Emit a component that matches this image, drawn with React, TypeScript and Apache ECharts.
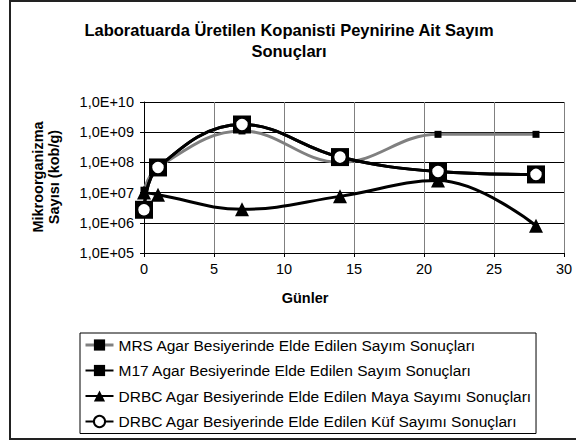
import React, { useEffect, useRef } from "react";
import * as echarts from "echarts";

const days = [0, 1, 7, 14, 21, 28];
const mrsValues = [1.2e7, 7e7, 1.1e9, 1.0e8, 8.5e8, 8.5e8];
const m17Values = [2.7e6, 6.8e7, 1.8e9, 1.5e8, 5e7, 4e7];
const mayaValues = [1e7, 8.5e6, 2.8e6, 7.5e6, 2.5e7, 8e5];
const kufValues = [2.7e6, 6.8e7, 1.8e9, 1.5e8, 5e7, 4e7];

const seriesNames = [
  "MRS Agar Besiyerinde Elde Edilen Sayım Sonuçları",
  "M17 Agar Besiyerinde Elde Edilen Sayım Sonuçları",
  "DRBC Agar Besiyerinde Elde Edilen Maya Sayımı Sonuçları",
  "DRBC Agar Besiyerinde Elde Edilen Küf Sayımı Sonuçları",
];

const titleLine1 = "Laboratuarda Üretilen Kopanisti Peynirine Ait Sayım";
const titleLine2 = "Sonuçları";
const yName1 = "Mikroorganizma";
const yName2 = "Sayısı (kob/g)";
const xName = "Günler";

const FONT = "'Liberation Sans', Arial, sans-serif";

const pairs = (vals: number[]) => days.map((d, i) => [d, vals[i]]);

export default function App() {
  const ref = useRef<HTMLDivElement>(null);
  useEffect(() => {
    if (!ref.current) return;
    const chart = echarts.init(ref.current, undefined, { renderer: "svg" });
    const option: any = {
      animation: false,
      backgroundColor: "#fff",
      textStyle: { fontFamily: FONT },
      grid: { left: 144, top: 102, width: 420, height: 151, containLabel: false },
      xAxis: {
        type: "value",
        min: 0,
        max: 30,
        interval: 5,
        axisLine: { show: true, onZero: false, lineStyle: { color: "#000", width: 1 } },
        axisTick: { show: true, inside: false, length: 4, lineStyle: { color: "#000" } },
        axisLabel: { color: "#000", fontSize: 14.5, fontFamily: FONT, margin: 8 },
        splitLine: { show: true, lineStyle: { color: "#808080", width: 1 } },
      },
      yAxis: {
        type: "log",
        logBase: 10,
        min: 1e5,
        max: 1e10,
        axisLine: { show: true, lineStyle: { color: "#000", width: 1 } },
        axisTick: { show: true, inside: false, length: 4, lineStyle: { color: "#000" } },
        axisLabel: {
          color: "#000",
          fontSize: 14.5,
          fontFamily: FONT,
          margin: 10,
          formatter: (v: number) =>
            "1,0E+" + String(Math.round(Math.log10(v))).padStart(2, "0"),
        },
        splitLine: { show: true, lineStyle: { color: "#000", width: 1 } },
      },
      legend: {
        orient: "vertical",
        left: 80,
        top: 333,
        padding: [4, 4, 4, 4],
        itemWidth: 28,
        itemHeight: 14,
        itemGap: 9.5,
        borderColor: "#000",
        borderWidth: 1,
        backgroundColor: "#fff",
        textStyle: { fontFamily: FONT, fontSize: 15.5, color: "#000" },
        data: [
          { name: seriesNames[0], lineStyle: { color: "#808080", width: 3 } },
          { name: seriesNames[1] },
          { name: seriesNames[2] },
          { name: seriesNames[3] },
        ],
      },
      series: [
        {
          name: seriesNames[0],
          type: "line",
          data: pairs(mrsValues),
          smooth: 0.4,
          symbol: "rect",
          symbolSize: 7,
          showAllSymbol: true,
          itemStyle: { color: "#000" },
          lineStyle: { color: "#808080", width: 3 },
          z: 2,
        },
        {
          name: seriesNames[1],
          type: "line",
          data: pairs(m17Values),
          smooth: 0.4,
          symbol: "rect",
          symbolSize: 18,
          showAllSymbol: true,
          itemStyle: { color: "#000" },
          lineStyle: { color: "#000", width: 3 },
          z: 3,
        },
        {
          name: seriesNames[2],
          type: "line",
          data: pairs(mayaValues),
          smooth: 0.4,
          symbol: "triangle",
          symbolSize: 14,
          showAllSymbol: true,
          itemStyle: { color: "#000" },
          lineStyle: { color: "#000", width: 3 },
          z: 4,
        },
        {
          name: seriesNames[3],
          type: "line",
          data: pairs(kufValues),
          smooth: 0.4,
          symbol: "circle",
          symbolSize: 13,
          showAllSymbol: true,
          itemStyle: { color: "#fff", borderColor: "#000", borderWidth: 1.5 },
          lineStyle: { color: "#000", width: 3 },
          z: 5,
        },
      ],
      graphic: [
        {
          type: "rect",
          shape: { x: 10, y: 1, width: 580, height: 438 },
          style: { fill: "none", stroke: "#222", lineWidth: 2 },
          z: 100,
          silent: true,
        },
        {
          type: "text",
          x: 289,
          y: 30,
          style: {
            text: titleLine1,
            font: `bold 16.5px ${FONT}`,
            fill: "#000",
            align: "center",
            verticalAlign: "middle",
          },
        },
        {
          type: "text",
          x: 289,
          y: 51,
          style: {
            text: titleLine2,
            font: `bold 16.5px ${FONT}`,
            fill: "#000",
            align: "center",
            verticalAlign: "middle",
          },
        },
        {
          type: "text",
          x: 38,
          y: 177,
          rotation: Math.PI / 2,
          style: {
            text: yName1,
            font: `bold 14.5px ${FONT}`,
            fill: "#000",
            align: "center",
            verticalAlign: "middle",
          },
        },
        {
          type: "text",
          x: 54,
          y: 177,
          rotation: Math.PI / 2,
          style: {
            text: yName2,
            font: `bold 14.5px ${FONT}`,
            fill: "#000",
            align: "center",
            verticalAlign: "middle",
          },
        },
        {
          type: "text",
          x: 305,
          y: 298,
          style: {
            text: xName,
            font: `bold 14.5px ${FONT}`,
            fill: "#000",
            align: "center",
            verticalAlign: "middle",
          },
        },
      ],
    };
    chart.setOption(option);
    return () => chart.dispose();
  }, []);
  return (
    <div
      ref={ref}
      style={{ position: "absolute", left: 0, top: 0, width: 576, height: 441 }}
    />
  );
}
